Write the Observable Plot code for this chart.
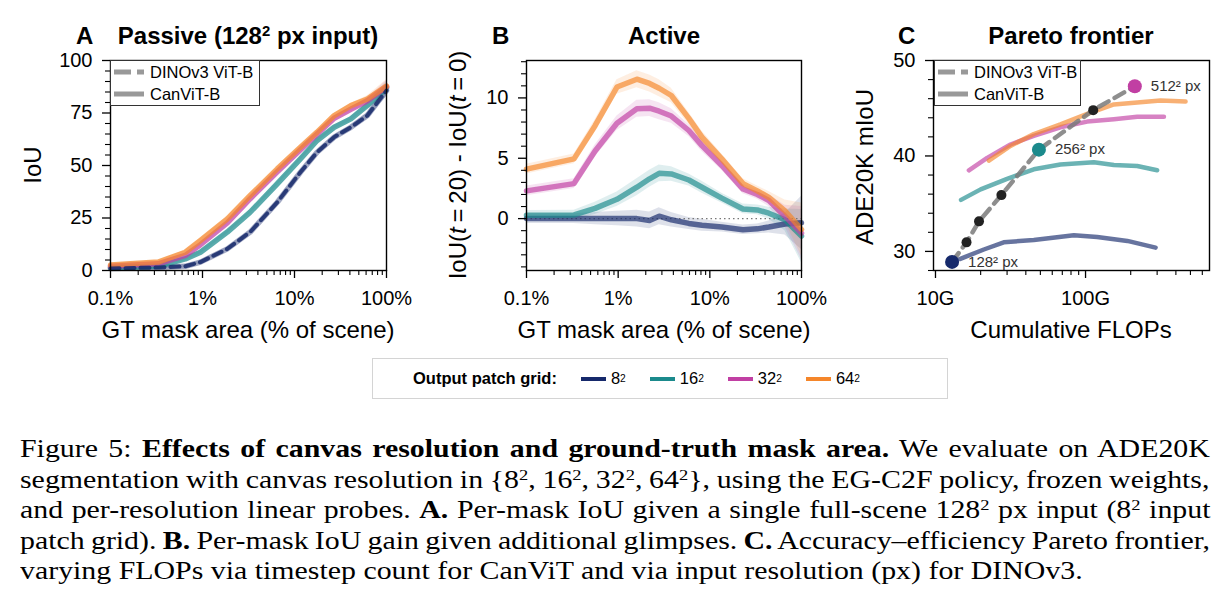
<!DOCTYPE html>
<html><head><meta charset="utf-8">
<script src="https://cdn.jsdelivr.net/npm/d3@7"></script>
<script src="https://cdn.jsdelivr.net/npm/@observablehq/plot@0.6"></script>
<style>
body{margin:0;background:#fff;}
#fig{position:relative;width:1230px;height:611px;overflow:hidden;font-family:"Liberation Sans",Arial,sans-serif;color:#000;background:#fff;}
.abs{position:absolute;white-space:nowrap;}
.plot{position:absolute;top:0;}
.title{font-weight:bold;font-size:24px;line-height:24px;top:24px;}
.ctr{transform:translateX(-50%);}
.xl{font-size:24px;line-height:24px;top:318px;transform:translateX(-50%);}
.yl{font-size:24px;line-height:24px;transform:translate(-50%,-50%) rotate(-90deg);}
.inleg{position:absolute;box-sizing:border-box;border:1.3px solid #333;background:#fff;font-size:16.5px;}
.inleg .row{display:flex;align-items:center;height:22px;}
.inleg svg{margin-left:2px;margin-right:5px;}
#bleg{position:absolute;left:372px;top:358px;width:576px;height:41px;box-sizing:border-box;border:1.5px solid #d4d4d4;display:flex;align-items:center;font-size:16.5px;padding-left:40px;}
#bleg .it{display:flex;align-items:center;margin-left:24px;}
#bleg .sw{width:25px;height:4px;margin-right:5px;}
#cap{position:absolute;left:20px;top:434px;font-family:"Liberation Serif","Times New Roman",serif;font-size:24.5px;line-height:30.5px;transform-origin:0 0;}
#cap .cl{white-space:nowrap;height:30.5px;}
#cap .cl span{display:inline-block;}
sup{font-size:0.62em;line-height:0;vertical-align:0.55em;}
</style></head>
<body><div id="fig"></div>
<script>
// ---------- data ----------
const grids = ["8²","16²","32²","64²"];
const gridColors = ["#16296b","#1b8a8c","#c13fa3","#f5862a"];
const methods = ["DINOv3 ViT-B","CanViT-B"];

// Panel A: passive IoU vs GT mask area (%)
const areaA = [0.1,0.33,0.65,0.95,1.86,3.3,6.5,11.6,17.6,27,41,62,100];
const passive8  = [1.0,1.4,2.0,4.0,10.3,18.3,32.5,46.8,56.3,63.5,68.2,73.8,85.7];
const passive16 = [1.3,2.0,5.5,8.7,18.3,27.8,41.3,53.2,61.9,68.2,72.2,78.6,87.0];
const passive32 = [2.0,3.2,7.2,12.3,22.7,34.2,47.0,57.5,65.0,72.5,76.8,80.8,87.5];
const passive64 = [2.6,4.0,8.7,14.3,24.6,35.7,48.4,58.7,65.9,73.8,78.5,81.7,87.8];
const passiveErr = [0.8,0.8,0.8,0.8,0.8,0.8,0.8,0.8,0.8,0.9,1.0,1.5,3.0];

// Panel B: IoU gain (t=20 minus t=0)
const areaB = [0.1,0.33,0.56,0.97,1.6,2.2,2.8,3.8,5.9,8.2,13.5,23,33,44,66,100];
const gain8  = [0,0,0,0,0,-0.15,0.2,-0.1,-0.4,-0.55,-0.7,-0.92,-0.85,-0.7,-0.45,-0.35];
const gain16 = [0.28,0.3,0.85,1.6,2.6,3.3,3.75,3.7,3.2,2.6,1.7,0.8,0.72,0.45,-0.1,-1.45];
const gain32 = [2.3,2.9,5.6,7.9,9.1,9.15,8.9,8.5,7.3,6.05,4.4,2.45,2.0,1.5,0.2,-1.2];
const gain64 = [4.1,4.95,7.7,10.9,11.55,11.2,10.8,10.2,8.3,6.75,4.95,2.9,2.3,1.75,0.64,-0.9];
const gainErr = [0.4,0.4,0.5,0.6,0.7,0.7,0.7,0.6,0.5,0.5,0.4,0.4,0.4,0.5,0.9,2.2];

// Panel C: Pareto frontier (cumulative GFLOPs, mIoU)
const c8Flops  = [14.5,21,28.5,45.2,83.6,119.6,190,293];
const c8Miou   = [29.2,30.2,30.95,31.2,31.7,31.5,31.1,30.4];
const c16Flops = [14.8,20,30,45.2,68,113.6,154.5,221,300];
const c16Miou  = [35.4,36.5,37.6,38.6,39.1,39.35,39.05,38.95,38.5];
const c32Flops = [16.7,22.1,31.6,45.2,68,102.6,154.5,221,333];
const c32Miou  = [38.5,39.8,41.2,42.1,43.0,43.6,43.85,44.1,44.1];
const c64Flops = [22.7,31.6,45.2,68,102.6,154.5,221,316,464];
const c64Miou  = [39.5,41.05,42.3,43.3,44.4,45.4,45.6,45.8,45.7];
const dinoFlops = [12.9,16.1,19.5,27.5,48.9,112.5,213];
const dinoMiou  = [28.9,30.95,33.15,35.9,40.66,44.8,47.3];
const dinoLabel = ["128² px","","","","256² px","","512² px"];
const dinoGrid  = ["8²",null,null,null,"16²",null,"32²"];

// ticks
const ticksPctMajor = [0.1,1,10,100];
const ticksA_y = [0,25,50,75,100];
const ticksB_y = [0,5,10];
const ticksC_x = [10,100];
const ticksC_y = [30,40,50];

// caption lines
const captionLines = [
  `Figure 5: <b>Effects of canvas resolution and ground-truth mask area.</b> We evaluate on ADE20K`,
  `segmentation with canvas resolution in {8<sup>2</sup>, 16<sup>2</sup>, 32<sup>2</sup>, 64<sup>2</sup>}, using the EG-C2F policy, frozen weights,`,
  `and per-resolution linear probes. <b>A.</b> Per-mask IoU given a single full-scene 128<sup>2</sup> px input (8<sup>2</sup> input`,
  `patch grid). <b>B.</b> Per-mask IoU gain given additional glimpses. <b>C.</b> Accuracy–efficiency Pareto frontier,`,
  `varying FLOPs via timestep count for CanViT and via input resolution (px) for DINOv3.`
];

// ---------- helpers ----------
const logMinor = (lo, hi) => { const r=[]; for (let d=lo; d<hi; d*=10) for (let k=2;k<=9;k++) r.push(d*k); return r; };
const tidy = (xs, arrs, err) => arrs.flatMap((ys,i)=> ys.map((y,j)=>({x:xs[j], y, lo:y-err[j], hi:y+err[j], g:grids[i]})));
const FONT = '"Liberation Sans", Arial, sans-serif';
const common = {
  width:410, height:350, marginTop:60, marginBottom:80,
  style:{fontFamily:FONT, fontSize:"20px", background:"transparent", overflow:"visible", color:"#000"},
  color:{domain:grids, range:gridColors}
};
function axes(xMajor, xMinor, xFmt, yMajor, yMinor){
  return [
    Plot.axisX({ticks:xMinor, tickFormat:()=>"", tickSize:5, strokeWidth:1.1, label:null}),
    Plot.axisX({ticks:xMajor, tickFormat:xFmt, tickSize:8, tickPadding:12, strokeWidth:1.3, label:null}),
    Plot.axisY({ticks:yMinor, tickFormat:()=>"", tickSize:5, strokeWidth:1.1, label:null}),
    Plot.axisY({ticks:yMajor, tickSize:8, tickPadding:10, strokeWidth:1.3, label:null}),
    Plot.frame({strokeWidth:1.4, stroke:"#000"})
  ];
}
const fig = document.getElementById("fig");
function place(el, left){ el.classList.add("plot"); el.style.left = left+"px"; fig.appendChild(el); }

// ---------- Panel A ----------
const rowsA = tidy(areaA, [passive8,passive16,passive32,passive64], passiveErr);
const plotA = Plot.plot({
  ...common, marginLeft:110, marginRight:24,
  x:{type:"log", domain:[0.1,100]},
  y:{domain:[0,100]},
  marks:[
    Plot.areaY(rowsA, {x:"x", y1:"lo", y2:"hi", z:"g", fill:"g", fillOpacity:0.14}),
    Plot.line(rowsA, {x:"x", y:"y", z:"g", stroke:"g", strokeWidth:5.5, strokeOpacity:d=>d.g==="8²"?0.4:0.72}),
    Plot.line(rowsA.filter(d=>d.g==="8²"), {x:"x", y:"y", stroke:"g", strokeWidth:4, strokeDasharray:"9,6", strokeOpacity:0.85}),
    ...axes(ticksPctMajor, logMinor(0.1,100), d=>d+"%", ticksA_y, d3.range(0,101,5).filter(v=>v%25))
  ]
});
place(plotA, 0);

// ---------- Panel B ----------
const rowsB = tidy(areaB, [gain8,gain16,gain32,gain64], gainErr);
const plotB = Plot.plot({
  ...common, marginLeft:116, marginRight:19,
  x:{type:"log", domain:[0.1,100]},
  y:{domain:[-4.3,13.1]},
  marks:[
    Plot.areaY(rowsB, {x:"x", y1:"lo", y2:"hi", z:"g", fill:"g", fillOpacity:0.14}),
    Plot.ruleY([0], {stroke:"#777", strokeDasharray:"1.5,3", strokeWidth:1.2}),
    Plot.line(rowsB, {x:"x", y:"y", z:"g", stroke:"g", strokeWidth:5.5, strokeOpacity:0.68}),
    ...axes(ticksPctMajor, logMinor(0.1,100), d=>d+"%", ticksB_y, d3.range(-4,14,1).filter(v=>v%5))
  ]
});
place(plotB, 410);

// ---------- Panel C ----------
const canvit = [[c8Flops,c8Miou],[c16Flops,c16Miou],[c32Flops,c32Miou],[c64Flops,c64Miou]]
  .flatMap(([f,m],i)=> f.map((x,j)=>({x, y:m[j], g:grids[i]})));
const dino = dinoFlops.map((x,i)=>({x, y:dinoMiou[i], label:dinoLabel[i], g:dinoGrid[i]}));
const plotC = Plot.plot({
  ...common, marginLeft:113, marginRight:21,
  x:{type:"log", domain:[9.7,670]},
  y:{domain:[28,50]},
  marks:[
    Plot.line(canvit, {x:"x", y:"y", z:"g", stroke:"g", strokeWidth:4.5, strokeOpacity:0.65}),
    Plot.line(dino, {x:"x", y:"y", stroke:"#7a7a7a", strokeWidth:4.5, strokeDasharray:"11,7", strokeOpacity:0.85}),
    Plot.dot(dino.filter(d=>!d.g), {x:"x", y:"y", r:5, fill:"#222"}),
    Plot.dot(dino.filter(d=>d.g), {x:"x", y:"y", r:7, fill:"g"}),
    Plot.text(dino.filter(d=>d.g), {x:"x", y:"y", text:"label", dx:16, textAnchor:"start", fontSize:15, fill:"#333"}),
    ...axes(ticksC_x, [20,30,40,50,60,70,80,90,200,300,400,500,600], d=>d+"G", ticksC_y, d3.range(28,51,2).filter(v=>v%10))
  ]
});
place(plotC, 820);

// ---------- text overlays ----------
function div(cls, html, style){ const d=document.createElement("div"); d.className="abs "+cls; d.innerHTML=html; Object.assign(d.style, style); fig.appendChild(d); return d; }
div("title", "A", {left:"76px"});
div("title ctr", "Passive (128<sup>2</sup> px input)", {left:"248px"});
div("title", "B", {left:"492px"});
div("title ctr", "Active", {left:"664px"});
div("title", "C", {left:"898px"});
div("title ctr", "Pareto frontier", {left:"1071px"});
div("xl", "GT mask area (% of scene)", {left:"248px"});
div("xl", "GT mask area (% of scene)", {left:"664px"});
div("xl", "Cumulative FLOPs", {left:"1071px"});
div("yl", "IoU", {left:"33px", top:"165px"});
div("yl", "IoU(<i>t</i>&#8201;=&#8201;20) - IoU(<i>t</i>&#8201;=&#8201;0)", {left:"458px", top:"165px"});
div("yl", "ADE20K mIoU", {left:"865px", top:"167px"});

function inLegend(left, top, width){
  const box = document.createElement("div");
  box.className = "inleg";
  Object.assign(box.style, {left:left+"px", top:top+"px", width:width+"px", height:"46px"});
  const dashes = ["17,6", null];
  methods.forEach((m,i)=>{
    const row = document.createElement("div"); row.className="row";
    row.innerHTML = `<svg width="32" height="8"><line x1="1" x2="31" y1="4" y2="4" stroke="#999" stroke-width="5" ${dashes[i]?`stroke-dasharray="${dashes[i]}"`:""}/></svg><span>${m}</span>`;
    box.appendChild(row);
  });
  fig.appendChild(box);
}
inLegend(110, 60, 150);
inLegend(934, 60, 147);

// bottom legend
const bleg = document.createElement("div"); bleg.id="bleg";
bleg.innerHTML = `<b>Output patch grid:</b>` + grids.map((g,i)=>
  `<span class="it"><span class="sw" style="background:${gridColors[i]}"></span>${g.replace("²","<sup>2</sup>")}</span>`).join("");
fig.appendChild(bleg);

// caption: stretch horizontally to match, justify all but the last line
const cap = document.createElement("div"); cap.id="cap";
cap.innerHTML = captionLines.map(t=>`<div class="cl"><span>${t}</span></div>`).join("");
fig.appendChild(cap);
const spans = [...cap.querySelectorAll(".cl span")];
const lastW = spans[spans.length-1].offsetWidth;
const sx = (1083-20) / lastW;
cap.style.transform = `scaleX(${sx})`;
const target = 1190 / sx;
spans.slice(0,-1).forEach(sp=>{
  const n = (sp.textContent.match(/ /g)||[]).length;
  const w = sp.offsetWidth;
  sp.style.wordSpacing = ((target - w)/n) + "px";
});
</script></body></html>
